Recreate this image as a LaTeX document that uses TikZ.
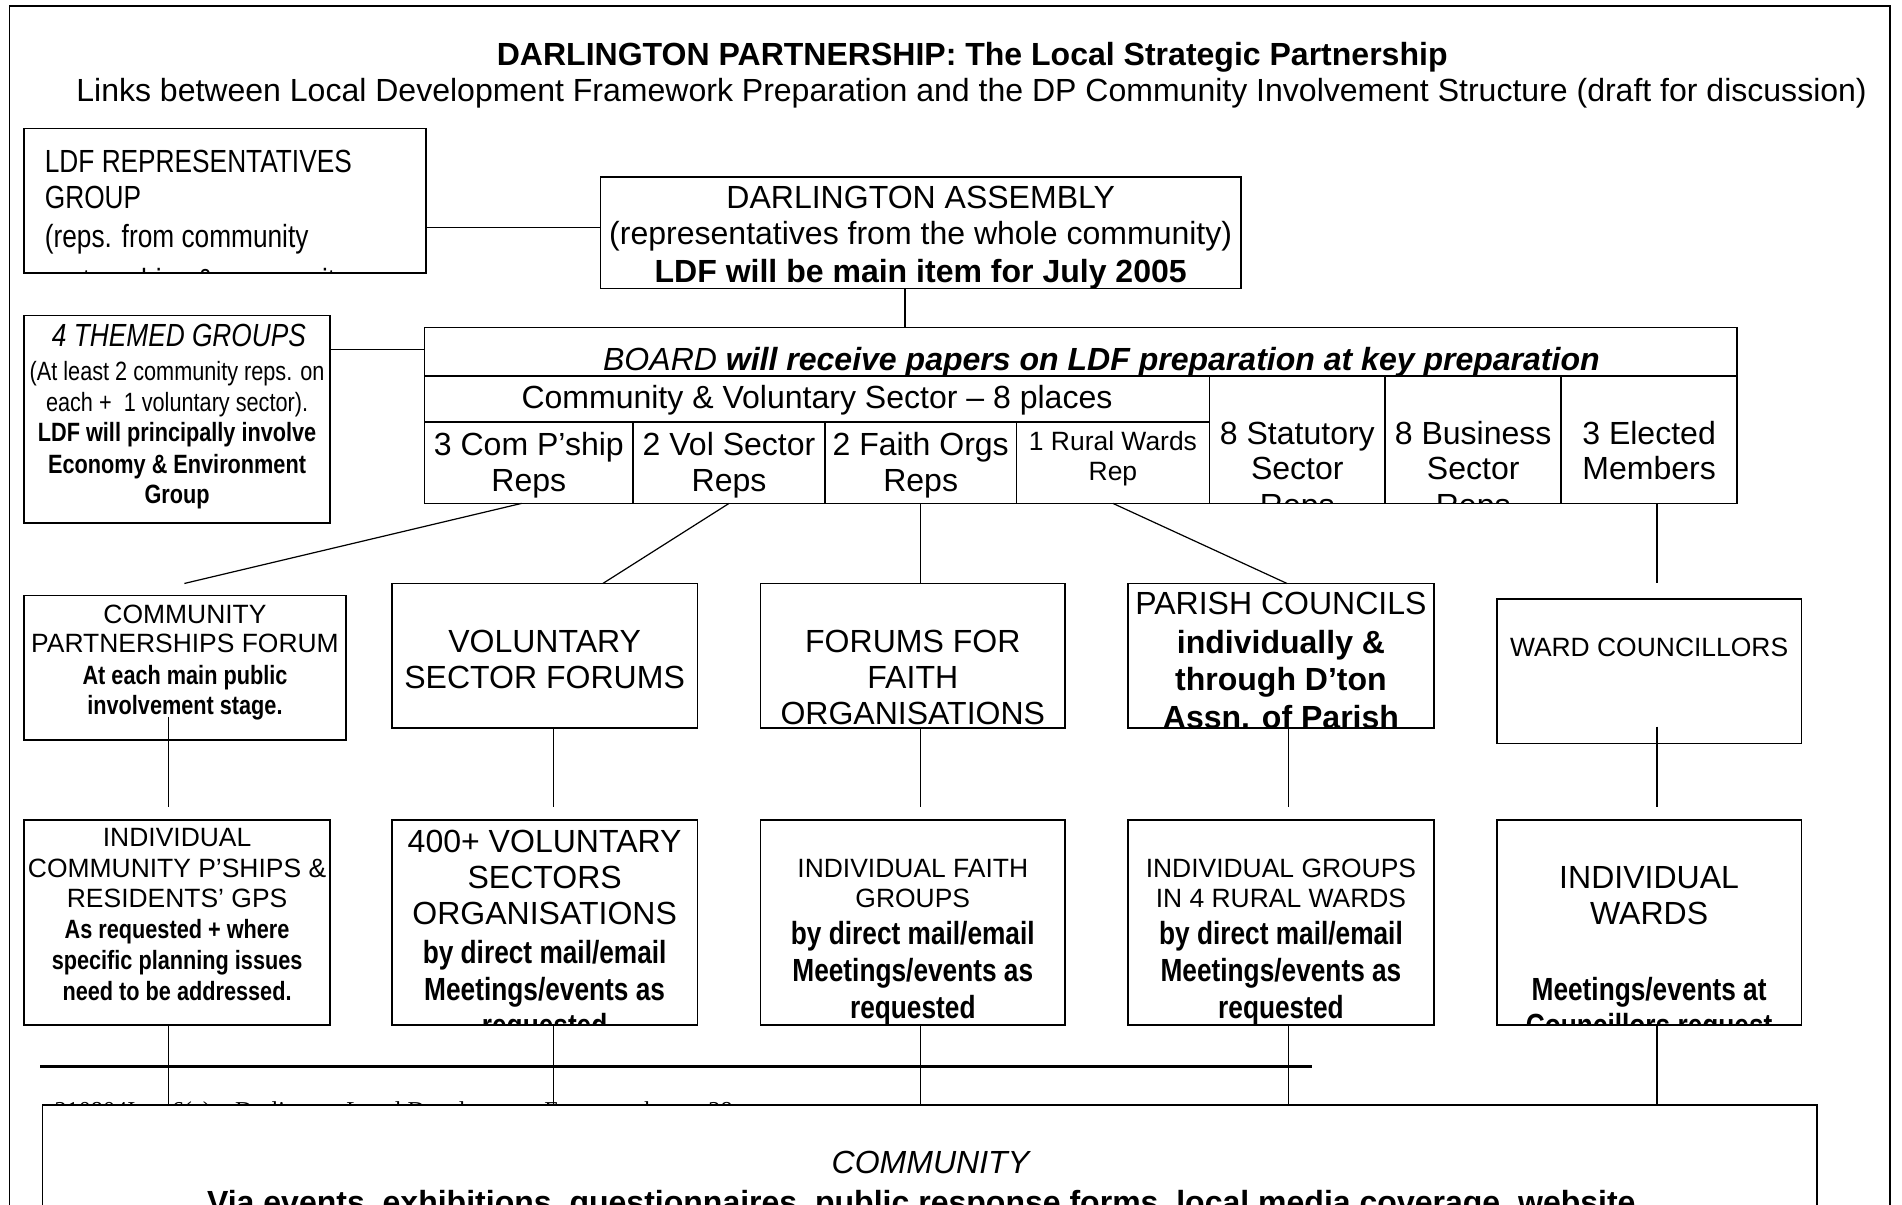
\documentclass[tikz,border=0pt]{standalone}
\usepackage{fontspec}
\setmainfont{Liberation Sans}
\newfontfamily\narrowsans[FakeStretch=0.82]{Liberation Sans}
\newfontfamily\footserif{Liberation Serif}

% type sizes
\newcommand\fbig{\fontsize{26.4}{30}\selectfont}
\newcommand\fsmall{\fontsize{21.8}{25}\selectfont}
% faces
\newcommand\dpRg{\fbig}
\newcommand\dpBd{\fbig\bfseries}
\newcommand\dpIt{\fbig\itshape}
\newcommand\dpNr{\narrowsans\fbig}
\newcommand\dpNI{\narrowsans\fbig\itshape}
\newcommand\dpNB{\narrowsans\fbig\bfseries}
\newcommand\dpRs{\fsmall}
\newcommand\dpNs{\narrowsans\fsmall}
\newcommand\dpNBs{\narrowsans\fsmall\bfseries}

\tikzset{
  boxst/.style={draw, line width=1.3pt, fill=white, inner sep=0pt, outer sep=0pt},
  conn/.style={line width=1pt},
  txt/.style={inner sep=0pt, outer sep=0pt}
}

\newcounter{txtline}
% centred line of text on a baseline
\newcommand\ctr[4]{\stepcounter{txtline}\node[txt, anchor=base, font=#3] (ln\arabic{txtline}) at (#1,#2) {#4};}
% left aligned line of text on a baseline
\newcommand\lft[4]{\stepcounter{txtline}\node[txt, anchor=base west, font=#3] (ln\arabic{txtline}) at (#1,#2) {#4};}
% box from corner (x1,y1) to corner (x2,y2)
\newcommand\mkbox[5]{\node[boxst, minimum width={(#4)-(#2)}, minimum height={(#5)-(#3)}] (#1) at ({((#2)+(#4))/2},{((#3)+(#5))/2}) {};}
% text kept inside a box
\newcommand\inbox[2]{\begin{scope}\clip (#1.south west) rectangle (#1.north east); #2 \end{scope}}

\begin{document}
\begin{tikzpicture}[x=1pt,y=-1pt]
\useasboundingbox (0,0) rectangle (1568,993);

% page frame
\draw[line width=1pt] (8,1100) -- (8,5) -- (1558,5) -- (1558,1100);
\draw[line width=2pt] (8,5) -- (1558,5);

% headings
\ctr{801.5}{54}{\dpBd}{DARLINGTON PARTNERSHIP: The Local Strategic Partnership}
\ctr{801}{84}{\dpRg}{Links between Local Development Framework Preparation and the DP Community Involvement Structure (draft for discussion)}

% footer of the page, partly covered by the community box
\node[txt, anchor=base west, font=\footserif\fontsize{20}{22}\selectfont] (foot) at (45,922) {210804Item6(a) – Darlington Local Development Framework};
\node[txt, anchor=base west, font=\footserif\fontsize{20}{22}\selectfont] (pageno) at (584,922) {28};
\draw[line width=2.4pt] (33,879) -- (1082,879);

% top level
\mkbox{ldf}{20}{106}{351}{225}
\mkbox{asm}{495}{146}{1023}{238}
\mkbox{themed}{20}{260}{272}{431}

% board table
\mkbox{bhead}{350}{270}{1432}{310}
\mkbox{cvs}{350}{310}{997}{348}
\mkbox{c1}{350}{348}{522}{415}
\mkbox{c2}{522}{348}{680}{415}
\mkbox{c3}{680}{348}{838}{415}
\mkbox{c4}{838}{348}{997}{415}
\mkbox{stat}{997}{310}{1142}{415}
\mkbox{bus}{1142}{310}{1287}{415}
\mkbox{elec}{1287}{310}{1432}{415}

% forums
\mkbox{cpf}{20}{491}{285}{610}
\mkbox{vol}{323}{481}{575}{600}
\mkbox{faith}{627}{481}{878}{600}
\mkbox{parish}{930}{481}{1182}{600}
\mkbox{ward}{1234}{494}{1485}{613}

% individual groups
\mkbox{ic}{20}{676}{272}{845}
\mkbox{iv}{323}{676}{575}{845}
\mkbox{ifg}{627}{676}{878}{845}
\mkbox{irw}{930}{676}{1182}{845}
\mkbox{iw}{1234}{676}{1485}{845}

% community
\mkbox{comm}{35}{911}{1498}{1100}

% ---- texts ----
\inbox{ldf}{
  \lft{37}{142}{\dpNr}{LDF REPRESENTATIVES}
  \lft{37}{172}{\dpNr}{GROUP}
  \lft{37}{204}{\dpNr}{(reps. from community}
  \lft{37}{240}{\dpNr}{partnerships \& community groups)}
}
\inbox{asm}{
  \ctr{759}{171.5}{\dpRg}{DARLINGTON ASSEMBLY}
  \ctr{759}{201.5}{\dpRg}{(representatives from the whole community)}
  \ctr{759}{232.5}{\dpBd}{LDF will be main item for July 2005}
}
\inbox{themed}{
  \ctr{147.5}{286}{\dpNI}{4 THEMED GROUPS}
  \ctr{146}{314}{\dpNs}{(At least 2 community reps. on}
  \ctr{146}{339}{\dpNs}{each +\ \ 1 voluntary sector).}
  \ctr{146}{364}{\dpNBs}{LDF will principally involve}
  \ctr{146}{390}{\dpNBs}{Economy \& Environment}
  \ctr{146}{415}{\dpNBs}{Group}
}
\inbox{bhead}{
  \ctr{908}{305.5}{\dpIt}{BOARD {\bfseries will receive papers on LDF preparation at key preparation}}
}
\inbox{cvs}{\ctr{673.5}{336.5}{\dpRg}{Community \& Voluntary Sector – 8 places}}
\inbox{c1}{\ctr{436}{375.5}{\dpRg}{3 Com P’ship}\ctr{436}{405.5}{\dpRg}{Reps}}
\inbox{c2}{\ctr{601}{375.5}{\dpRg}{2 Vol Sector}\ctr{601}{405.5}{\dpRg}{Reps}}
\inbox{c3}{\ctr{759}{375.5}{\dpRg}{2 Faith Orgs}\ctr{759}{405.5}{\dpRg}{Reps}}
\inbox{c4}{\ctr{917.5}{371}{\dpRs}{1 Rural Wards}\ctr{917.5}{396}{\dpRs}{Rep}}
\inbox{stat}{\ctr{1069.5}{366.5}{\dpRg}{8 Statutory}\ctr{1069.5}{395.5}{\dpRg}{Sector}\ctr{1069.5}{425.5}{\dpRg}{Reps}}
\inbox{bus}{\ctr{1214.5}{366.5}{\dpRg}{8 Business}\ctr{1214.5}{395.5}{\dpRg}{Sector}\ctr{1214.5}{425.5}{\dpRg}{Reps}}
\inbox{elec}{\ctr{1359.5}{366.5}{\dpRg}{3 Elected}\ctr{1359.5}{395.5}{\dpRg}{Members}}

\inbox{cpf}{
  \ctr{152.5}{514}{\dpRs}{COMMUNITY}
  \ctr{152.5}{538}{\dpRs}{PARTNERSHIPS FORUM}
  \ctr{152.5}{564}{\dpNBs}{At each main public}
  \ctr{152.5}{589}{\dpNBs}{involvement stage.}
}
\inbox{vol}{
  \ctr{449}{537.5}{\dpRg}{VOLUNTARY}
  \ctr{449}{567.5}{\dpRg}{SECTOR FORUMS}
}
\inbox{faith}{
  \ctr{752.5}{537.5}{\dpRg}{FORUMS FOR}
  \ctr{752.5}{567.5}{\dpRg}{FAITH}
  \ctr{752.5}{597.5}{\dpRg}{ORGANISATIONS}
}
\inbox{parish}{
  \ctr{1056}{506.5}{\dpRg}{PARISH COUNCILS}
  \ctr{1056}{538.5}{\dpBd}{individually \&}
  \ctr{1056}{569.5}{\dpBd}{through D’ton}
  \ctr{1056}{600.5}{\dpBd}{Assn. of Parish}
}
\inbox{ward}{\ctr{1359.5}{541}{\dpRs}{WARD COUNCILLORS}}

\inbox{ic}{
  \ctr{146}{698}{\dpRs}{INDIVIDUAL}
  \ctr{146}{723}{\dpRs}{COMMUNITY P’SHIPS \&}
  \ctr{146}{748}{\dpRs}{RESIDENTS’ GPS}
  \ctr{146}{774}{\dpNBs}{As requested + where}
  \ctr{146}{799}{\dpNBs}{specific planning issues}
  \ctr{146}{825}{\dpNBs}{need to be addressed.}
}
\inbox{iv}{
  \ctr{449}{702.5}{\dpRg}{400+ VOLUNTARY}
  \ctr{449}{732.5}{\dpRg}{SECTORS}
  \ctr{449}{762.5}{\dpRg}{ORGANISATIONS}
  \ctr{449}{794.5}{\dpNB}{by direct mail/email}
  \ctr{449}{824.5}{\dpNB}{Meetings/events as}
  \ctr{449}{854.5}{\dpNB}{requested}
}
\inbox{ifg}{
  \ctr{752.5}{723}{\dpRs}{INDIVIDUAL FAITH}
  \ctr{752.5}{748}{\dpRs}{GROUPS}
  \ctr{752.5}{778.5}{\dpNB}{by direct mail/email}
  \ctr{752.5}{809.5}{\dpNB}{Meetings/events as}
  \ctr{752.5}{839.5}{\dpNB}{requested}
}
\inbox{irw}{
  \ctr{1056}{723}{\dpRs}{INDIVIDUAL GROUPS}
  \ctr{1056}{748}{\dpRs}{IN 4 RURAL WARDS}
  \ctr{1056}{778.5}{\dpNB}{by direct mail/email}
  \ctr{1056}{809.5}{\dpNB}{Meetings/events as}
  \ctr{1056}{839.5}{\dpNB}{requested}
}
\inbox{iw}{
  \ctr{1359.5}{732.5}{\dpRg}{INDIVIDUAL}
  \ctr{1359.5}{762.5}{\dpRg}{WARDS}
  \ctr{1359.5}{824.5}{\dpNB}{Meetings/events at}
  \ctr{1359.5}{854.5}{\dpNB}{Councillors request}
}
\inbox{comm}{
  \ctr{767}{967.5}{\dpIt}{COMMUNITY}
  \ctr{759.5}{1000}{\dpBd}{Via events, exhibitions, questionnaires, public response forms, local media coverage, website}
}

% ---- connectors ----
\coordinate (xa) at (139,0);
\coordinate (xb) at (456,0);
\coordinate (xc) at (759,0);
\coordinate (xd) at (1062,0);
\coordinate (xe) at (1366,0);
\coordinate (xasm) at (746,0);
\coordinate (xc1) at (430,0);
\coordinate (xvt) at (497,0);
\coordinate (xpt) at (1061,0);
\coordinate (yldf) at (0,187.7);
\coordinate (ythm) at (0,288);
\coordinate (ymid) at (0,665);
\coordinate (cpfTop) at (152,481);
\coordinate (wardTop) at (1366,481);
\coordinate (cpfIn) at (139,591);
\coordinate (wardIn) at (1366,599);

\draw[conn] (ldf.east |- yldf) -- (asm.west |- yldf);
\draw[conn] (themed.east |- ythm) -- (bhead.west |- ythm);
\draw[conn] (asm.south -| xasm) -- (bhead.north -| xasm);

\draw[conn] (c1.south -| xc1) -- (cpfTop);
\draw[conn] (c2.south) -- (vol.north -| xvt);
\draw[conn] (c3.south) -- (faith.north -| xc);
\draw[conn] (c4.south) -- (parish.north -| xpt);
\draw[conn] (elec.south -| xe) -- (wardTop);

\draw[conn] (cpfIn) -- (xa |- ymid);
\draw[conn] (vol.south -| xb) -- (xb |- ymid);
\draw[conn] (faith.south -| xc) -- (xc |- ymid);
\draw[conn] (parish.south -| xd) -- (xd |- ymid);
\draw[conn] (wardIn) -- (xe |- ymid);

\draw[conn] (ic.south -| xa) -- (comm.north -| xa);
\draw[conn] (iv.south -| xb) -- (comm.north -| xb);
\draw[conn] (ifg.south -| xc) -- (comm.north -| xc);
\draw[conn] (irw.south -| xd) -- (comm.north -| xd);
\draw[conn] (iw.south -| xe) -- (comm.north -| xe);
\end{tikzpicture}
\end{document}
